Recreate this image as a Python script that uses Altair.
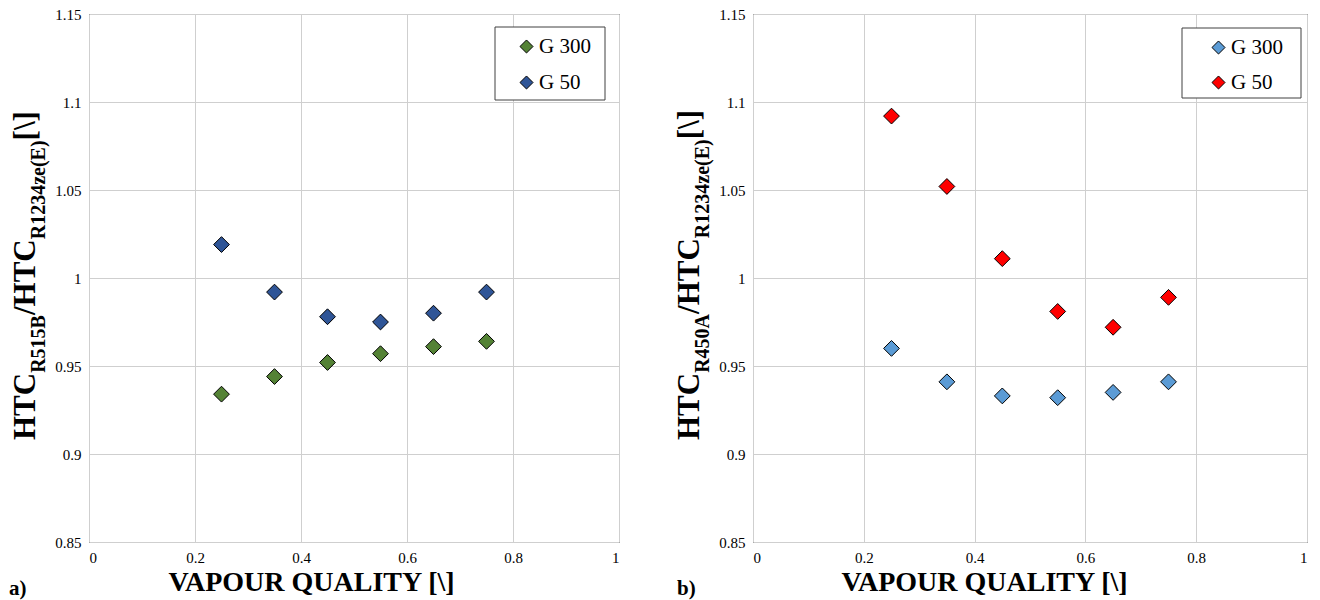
import altair as alt
import pandas as pd

# ---- data ----
quality = [0.25, 0.35, 0.45, 0.55, 0.65, 0.75]
a_g300 = [0.934, 0.944, 0.952, 0.957, 0.961, 0.964]
a_g50 = [1.019, 0.992, 0.978, 0.975, 0.980, 0.992]
b_g300 = [0.960, 0.941, 0.933, 0.932, 0.935, 0.941]
b_g50 = [1.092, 1.052, 1.011, 0.981, 0.972, 0.989]
series = ["G 300", "G 50"]
x_ticks = [0, 0.2, 0.4, 0.6, 0.8, 1]
y_ticks = [0.85, 0.9, 0.95, 1.0, 1.05, 1.1, 1.15]

FONT = "Liberation Serif"
M = 31   # main title font size
S = 20   # subscript font size

W = {'H': .778, 'T': .667, 'C': .722, '/': .278, 'R': .722, '5': .5, '1': .5, '2': .5,
     '3': .5, '4': .5, '0': .5, 'B': .667, 'A': .722, 'z': .444, 'e': .444, '(': .333,
     ')': .333, 'E': .667, ' ': .25, '[': .333, '\\': .278, ']': .333}


def tw(s, size):
    return sum(W.get(c, 0.5) for c in s) * size


def frame(g300, g50):
    return pd.DataFrame({
        "x": quality * 2,
        "y": g300 + g50,
        "s": [series[0]] * len(quality) + [series[1]] * len(quality),
    })


def panel(df, colors, sub1, width, box, leg_xy, row_pad, panel_label, label_dx, title_x):
    one = alt.Data(values=[{}])
    legend_box = alt.Chart(one).mark_rect(
        fill="white", stroke="#404040", strokeWidth=1
    ).encode(x=alt.value(box[0]), x2=alt.value(box[1]),
             y=alt.value(box[2]), y2=alt.value(box[3]))
    base = alt.Chart(df).mark_point(
        shape="diamond", filled=True, size=250, opacity=1,
        stroke="black", strokeWidth=1
    ).encode(
        x=alt.X("x:Q", scale=alt.Scale(domain=[0, 1], nice=False),
                axis=alt.Axis(values=x_ticks, format="~g", title="VAPOUR QUALITY [\\]",
                              titleFont=FONT, titleFontSize=28, titleFontWeight="bold",
                              titleColor="black", titleX=title_x, titleY=48,
                              titleBaseline="alphabetic", titleAlign="center",
                              titleAnchor="start")),
        y=alt.Y("y:Q", scale=alt.Scale(domain=[0.85, 1.15], nice=False, zero=False),
                axis=alt.Axis(values=y_ticks, format="~g", title=None)),
        fill=alt.Fill("s:N", scale=alt.Scale(domain=series, range=colors),
                      legend=alt.Legend(title=None, orient="none",
                                        legendX=leg_xy[0], legendY=leg_xy[1],
                                        symbolType="diamond", symbolSize=170,
                                        symbolStrokeColor="black", symbolStrokeWidth=1,
                                        labelFont=FONT, labelFontSize=21, labelColor="black",
                                        padding=0, rowPadding=row_pad, symbolOffset=0,
                                        labelOffset=2)),
    )
    layers = [legend_box, base]
    segs = [("HTC", M, 0), (sub1, S, 1), ("/HTC", M, 0), ("R1234ze(E)", S, 1), (" [\\]", M, 0)]
    ypos = 426
    for txt, size, sub in segs:
        layers.append(
            alt.Chart(one).mark_text(
                text=txt, angle=270, align="left", baseline="alphabetic",
                font=FONT, fontSize=size, fontWeight="bold", color="black"
            ).encode(x=alt.value(-54 + (10 if sub else 0)), y=alt.value(ypos))
        )
        ypos -= tw(txt, size)
    layers.append(
        alt.Chart(one).mark_text(
            text=panel_label, align="left", baseline="alphabetic",
            font=FONT, fontSize=21, fontWeight="bold", color="black"
        ).encode(x=alt.value(label_dx), y=alt.value(581))
    )
    return alt.layer(*layers).properties(width=width, height=528)


left = panel(frame(a_g300, a_g50), ["#548235", "#2F5597"], "R515B", 530,
             (406, 516, 13, 86), (427, 22), 14, "a)", -80, 222)
right = panel(frame(b_g300, b_g50), ["#5B9BD5", "#FF0000"], "R450A", 554,
              (429, 548, 14, 84), (455, 23), 13, "b)", -76, 231)

chart = alt.hconcat(left, right, spacing=53).resolve_scale(fill="independent").resolve_legend(
    fill="independent"
).properties(
    padding={"left": 0, "top": -2, "right": 0, "bottom": 0}, background="white"
).configure_view(stroke="black", strokeWidth=1).configure_axis(
    labelFont=FONT, labelFontSize=15, labelColor="black", gridColor="#cfcfcf",
    gridWidth=1, domain=False, ticks=False, labelPadding=8
).configure_legend(labelFont=FONT)

chart.save("out.html", embed_options={"renderer": "svg", "actions": False})
